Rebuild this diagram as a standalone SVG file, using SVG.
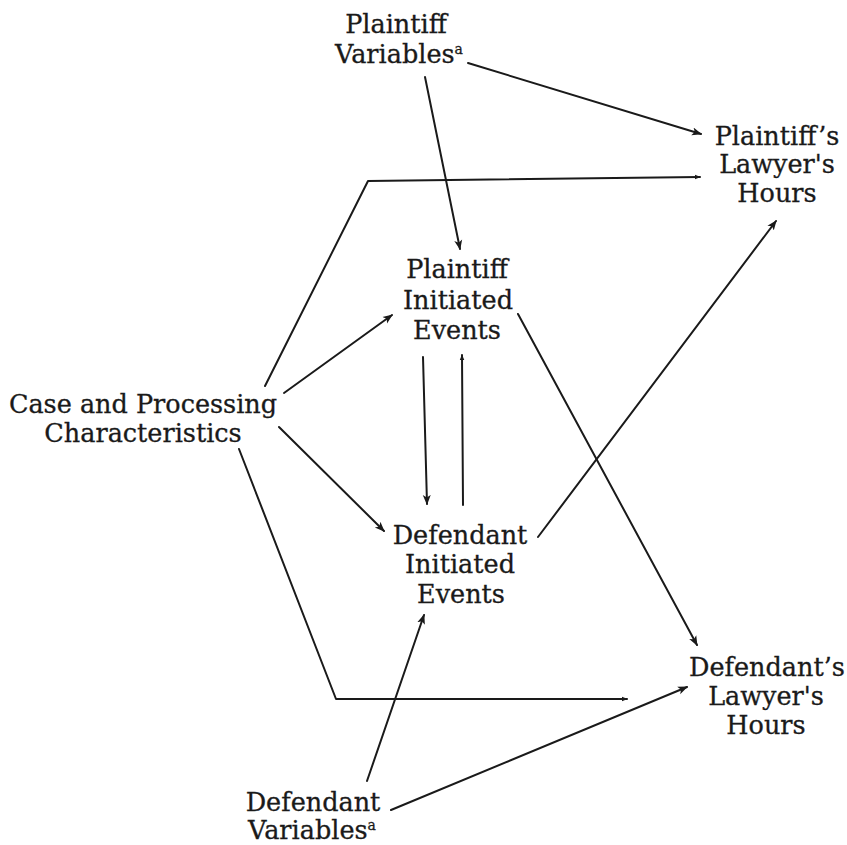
<svg xmlns="http://www.w3.org/2000/svg" width="847" height="845" viewBox="0 0 847 845">
<defs>
<style>
text{font-family:"DejaVu Serif","Liberation Serif",serif;font-size:25.5px;fill:#1a1a1a;stroke:#1a1a1a;stroke-width:0.3;text-anchor:middle}
.sup{font-size:14px}
.c{fill:none;stroke:#1a1a1a;stroke-width:2;stroke-linecap:round;stroke-linejoin:round}
</style>
<marker id="ah" viewBox="0 0 10 10" refX="9" refY="5" markerWidth="10" markerHeight="10" markerUnits="userSpaceOnUse" orient="auto">
<path d="M0,1 L10,5 L0,9 L2.5,5 Z" fill="#1a1a1a"/>
</marker>
<marker id="as" viewBox="0 0 10 10" refX="9" refY="5" markerWidth="6" markerHeight="6" markerUnits="userSpaceOnUse" orient="auto">
<path d="M0,1 L10,5 L0,9 Z" fill="#1a1a1a"/>
</marker>
</defs>
<rect width="847" height="845" fill="#ffffff"/>
<g id="connectors">
<line class="c" x1="468" y1="63" x2="701" y2="134" marker-end="url(#ah)"/>
<line class="c" x1="425" y1="77" x2="460" y2="249" marker-end="url(#ah)"/>
<polyline class="c" points="265,386 368,181 700,177" marker-end="url(#as)"/>
<line class="c" x1="284" y1="393" x2="392" y2="315" marker-end="url(#ah)"/>
<line class="c" x1="279" y1="427" x2="384" y2="531" marker-end="url(#ah)"/>
<polyline class="c" points="239,449 336,699 627,699" marker-end="url(#as)"/>
<line class="c" x1="423" y1="357" x2="427" y2="504" marker-end="url(#ah)"/>
<line class="c" x1="463" y1="505" x2="462" y2="355" marker-end="url(#as)"/>
<line class="c" x1="518" y1="314" x2="697" y2="645" marker-end="url(#ah)"/>
<line class="c" x1="538" y1="537" x2="776" y2="221" marker-end="url(#ah)"/>
<line class="c" x1="367" y1="781" x2="424" y2="615" marker-end="url(#ah)"/>
<line class="c" x1="391" y1="810" x2="687" y2="687" marker-end="url(#ah)"/>
</g>
<g id="plaintiff-variables">
<text x="396" y="33">Plaintiff</text>
<text x="399" y="63">Variables<tspan class="sup" dy="-9">a</tspan></text>
</g>
<g id="plaintiff-lawyer-hours">
<text x="777" y="145">Plaintiff’s</text>
<text x="777" y="173">Lawyer's</text>
<text x="777" y="202">Hours</text>
</g>
<g id="plaintiff-initiated-events">
<text x="457" y="278">Plaintiff</text>
<text x="458" y="309">Initiated</text>
<text x="457" y="339">Events</text>
</g>
<g id="case-processing">
<text x="143" y="413">Case and Processing</text>
<text x="143" y="442">Characteristics</text>
</g>
<g id="defendant-initiated-events">
<text x="460" y="544">Defendant</text>
<text x="460" y="573">Initiated</text>
<text x="461" y="603">Events</text>
</g>
<g id="defendant-lawyer-hours">
<text x="767" y="676">Defendant’s</text>
<text x="766" y="705">Lawyer's</text>
<text x="766" y="734">Hours</text>
</g>
<g id="defendant-variables">
<text x="313" y="811">Defendant</text>
<text x="312" y="839">Variables<tspan class="sup" dy="-9">a</tspan></text>
</g>
</svg>
